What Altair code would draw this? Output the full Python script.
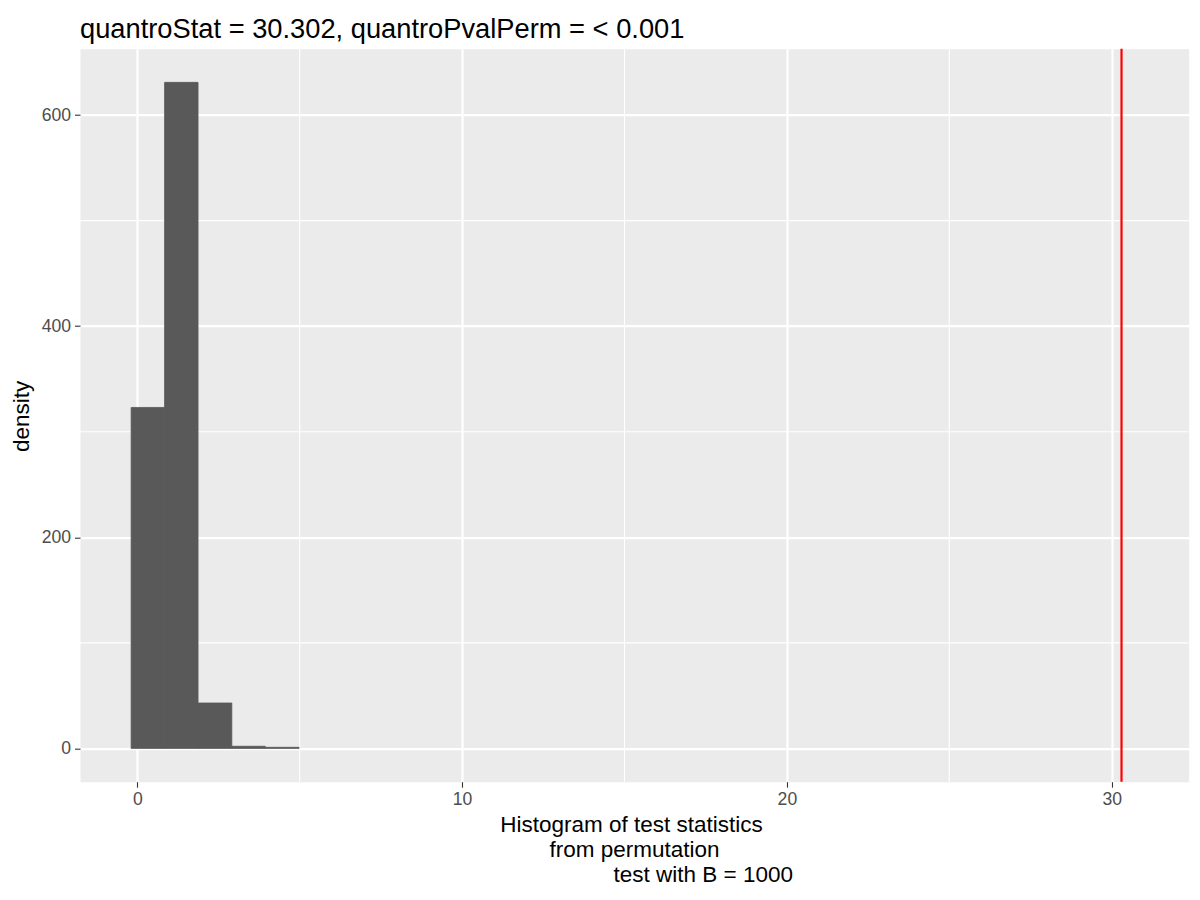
import altair as alt
import pandas as pd

# Histogram bins
bin_start = [-0.19, 0.84, 1.87, 2.91, 3.94]
bin_end = [0.84, 1.87, 2.91, 3.94, 4.98]
counts = [323, 631, 43, 2, 1]

quantro_stat = 30.302
title_text = "quantroStat = 30.302, quantroPvalPerm = < 0.001"
ZW = "\u200b"
NB = "\u00a0"
x_title = [
    "Histogram of test statistics" + NB + ZW,
    ZW + NB + "from permutation" + NB + ZW,
    ZW + NB * 22 + "test with B = 1000",
]
y_title = "density"

x_ticks = [0, 10, 20, 30]
y_ticks = [0, 200, 400, 600]
x_minor = [5, 15, 25]
y_minor = [100, 300, 500]

x_domain = [-1.764, 32.37]
y_domain = [-31.56, 662.9]

W, H = 1108.7, 733
FONT = "Liberation Sans"

hist = pd.DataFrame({"start": bin_start, "end": bin_end, "count": counts})
hist["zero"] = [0] * len(counts)

xs = alt.Scale(domain=x_domain, nice=False, zero=False)
ys = alt.Scale(domain=y_domain, nice=False, zero=False)

x_axis = alt.Axis(
    values=x_ticks, title=x_title, grid=True, gridColor="white", gridWidth=2.2,
    domain=False, tickColor="#333333", tickWidth=1.1, tickSize=5.5,
    labelFont=FONT, labelFontSize=17.6, labelColor="#4D4D4D", labelPadding=3,
    titleFont=FONT, titleFontSize=22.5, titleFontWeight="normal", titleColor="black",
    titleLineHeight=24.8, titleBaseline="alphabetic", titleAlign="center",
    titleX=W / 2 - 0.3, titleY=50.3,
)
y_axis = alt.Axis(
    values=y_ticks, title=y_title, grid=True, gridColor="white", gridWidth=2.2,
    domain=False, tickColor="#333333", tickWidth=1.1, tickSize=5.5,
    labelFont=FONT, labelFontSize=17.6, labelColor="#4D4D4D", labelPadding=4,
    titleFont=FONT, titleFontSize=22.5, titleFontWeight="normal", titleColor="black",
    titleBaseline="middle", titleAngle=-90, titleX=-58.5, titleY=H / 2 + 0.6,
)

minor_x_df = pd.DataFrame({"v": x_minor})
minor_y_df = pd.DataFrame({"v": y_minor})

minor_x = alt.Chart(minor_x_df).mark_rule(color="white", strokeWidth=1.1).encode(
    x=alt.X("v:Q", scale=xs, axis=x_axis)
)
minor_y = alt.Chart(minor_y_df).mark_rule(color="white", strokeWidth=1.1).encode(
    y=alt.Y("v:Q", scale=ys, axis=y_axis)
)

bars = alt.Chart(hist).mark_rect(
    color="#595959", stroke="#595959", strokeWidth=0.8
).encode(
    x=alt.X("start:Q", scale=xs, axis=x_axis),
    x2="end:Q",
    y=alt.Y("count:Q", scale=ys, axis=y_axis),
    y2="zero:Q",
)

vline = alt.Chart(pd.DataFrame({"stat": [quantro_stat]})).mark_rule(
    color="red", strokeWidth=2.2
).encode(x=alt.X("stat:Q", scale=xs, axis=x_axis))

chart = alt.layer(minor_x, minor_y, bars, vline).properties(
    width=W,
    height=H,
    autosize=alt.AutoSizeParams(type="none"),
    padding={"left": 72, "top": 40.7, "right": 3, "bottom": 108},
    background="white",
    title=alt.TitleParams(
        text=title_text, anchor="start", frame="group", fontSize=27.3,
        font=FONT, fontWeight="normal", color="black", orient="top",
    ),
).configure_view(fill="#EBEBEB", stroke="transparent")

chart.save("out.html", embed_options={"renderer": "svg", "actions": False})
